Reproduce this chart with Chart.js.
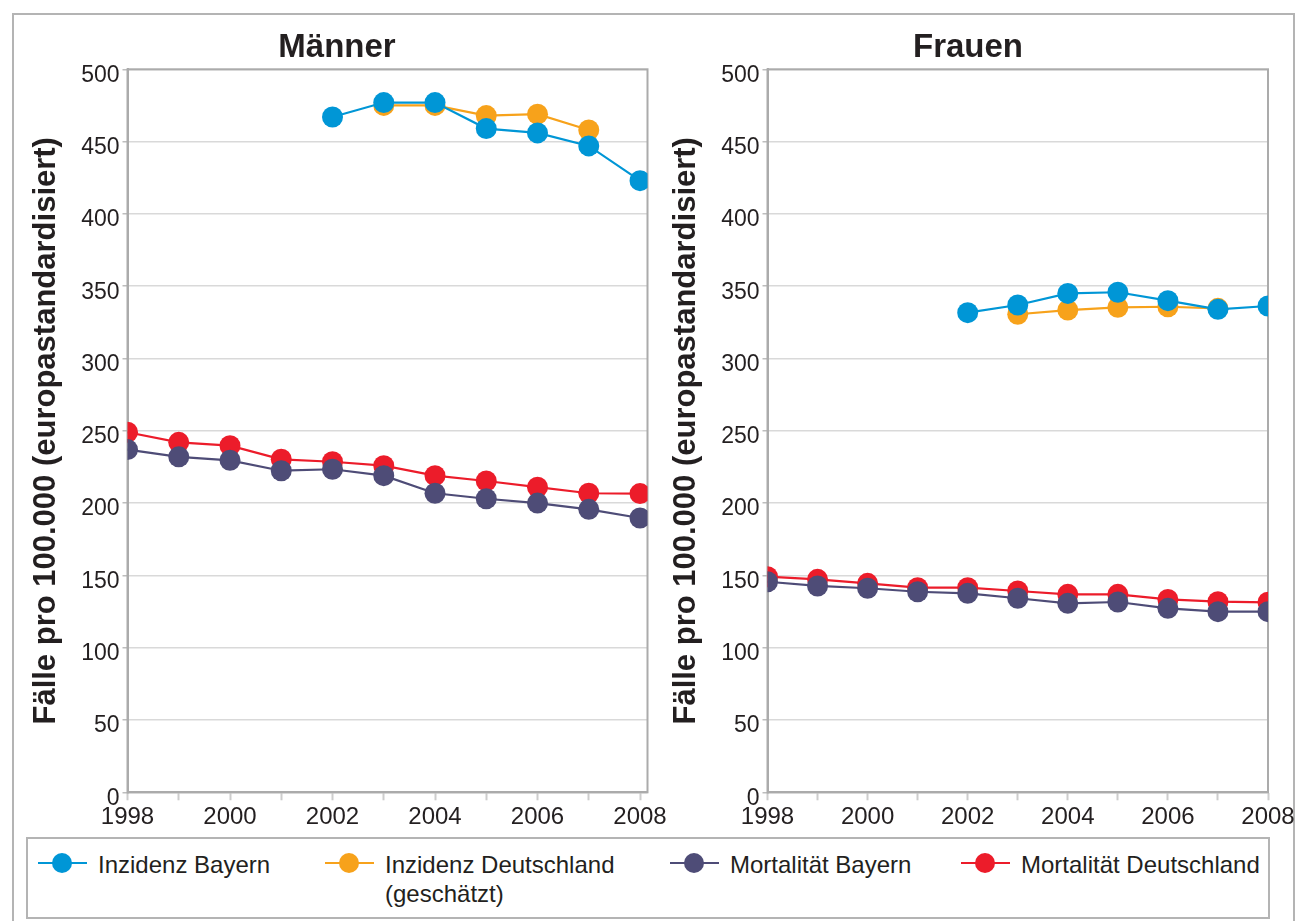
<!DOCTYPE html>
<html>
<head>
<meta charset="utf-8">
<script src="https://cdn.jsdelivr.net/npm/chart.js@4/dist/chart.umd.min.js"></script>
<style>
  html, body { margin:0; padding:0; background:#fff; }
  body { width:1295px; height:921px; overflow:hidden; position:relative; font-family:"Liberation Sans", Arial, sans-serif; color:#231f20; }
  #frame { position:absolute; left:12px; top:13px; width:1279px; height:930px; border:2px solid #b4b4b4; }
  canvas { position:absolute; top:0; }
  #cMen { left:0; }
  #cWomen { left:640px; }
  .ttl { position:absolute; top:29px; width:240px; text-align:center; font-weight:bold; font-size:33px; line-height:33px; }
  #legendBox { position:absolute; left:26px; top:837px; width:1240px; height:78px; border:2px solid #b4b4b4; }
  .lgItem { position:absolute; top:850px; font-size:24px; line-height:29px; white-space:nowrap; }
  .lgMark { position:absolute; top:853px; width:49px; height:20px; }
  .lgMark .ln { position:absolute; left:0; right:0; top:9px; height:2px; }
  .lgMark .dot { position:absolute; left:14px; top:0; width:20px; height:20px; border-radius:50%; }
</style>
</head>
<body>
<div id="frame"></div>
<canvas id="cMen" width="700" height="836"></canvas>
<canvas id="cWomen" width="660" height="836"></canvas>
<div class="ttl" style="left:217px;">Männer</div>
<div class="ttl" style="left:848px;">Frauen</div>
<div id="legendBox"></div>
<div id="legend"></div>
<script>
// ---- data ----
const years = [1998, 1999, 2000, 2001, 2002, 2003, 2004, 2005, 2006, 2007, 2008];
const yTickValues = [0, 50, 100, 150, 200, 250, 300, 350, 400, 450, 500];
const seriesNames = ['Inzidenz Bayern', 'Inzidenz Deutschland\n(geschätzt)', 'Mortalität Bayern', 'Mortalität Deutschland'];
const chartTitles = ['Männer', 'Frauen'];
const yAxisTitle = 'Fälle pro 100.000 (europastandardisiert)';

const menIncidenceBavaria   = [null, null, null, null, 467, 477, 477, 459, 456, 447, 423];
const menIncidenceGermany   = [null, null, null, null, null, 475, 475, 468, 469, 458, null];
const menMortalityBavaria   = [237, 232, 229.6, 222.4, 223.4, 219, 206.8, 203, 200, 195.7, 189.7];
const menMortalityGermany   = [249, 242, 239.7, 230.3, 228.6, 225.9, 219, 215.3, 211, 206.8, 206.6];

const womenIncidenceBavaria = [null, null, null, null, 331.7, 337, 345, 345.8, 340, 334, 336.3];
const womenIncidenceGermany = [null, null, null, null, null, 330.6, 333.5, 335.4, 335.8, 334.7, null];
const womenMortalityBavaria = [145.6, 142.7, 141.1, 138.7, 137.6, 134.2, 130.7, 131.6, 127.2, 124.9, 124.9];
const womenMortalityGermany = [149.1, 147.3, 144.5, 141.5, 141.5, 139.2, 136.9, 136.9, 133.4, 131.8, 131.4];

// ---- styles ----
const COLORS = ['#0096d6', '#f7a21b', '#4e4c77', '#ec1c2a'];
const TEXT = '#231f20';
const AXIS = '#ababab';

Chart.defaults.font.family = '"Liberation Sans", Arial, sans-serif';
Chart.defaults.color = TEXT;

function toPoints(vals) {
  const pts = [];
  years.forEach((y, i) => { if (vals[i] !== null) pts.push({ x: y, y: vals[i] }); });
  return pts;
}

const frameBorder = {
  id: 'frameBorder',
  beforeDatasetsDraw(chart) {
    const a = chart.chartArea, ctx = chart.ctx;
    ctx.save();
    ctx.strokeStyle = AXIS;
    ctx.lineWidth = 2;
    ctx.strokeRect(a.left, a.top, a.right - a.left, a.bottom - a.top);
    ctx.restore();
  }
};

function makeChart(id, seriesList, xMax, padRight) {
  const datasets = seriesList.map((vals, i) => ({
    label: seriesNames[i],
    data: toPoints(vals),
    borderColor: COLORS[i],
    backgroundColor: COLORS[i],
    pointBackgroundColor: COLORS[i],
    pointBorderColor: COLORS[i],
    borderWidth: 2.2,
    pointRadius: 10.5,
    pointBorderWidth: 0,
    tension: 0,
    fill: false
  }));
  return new Chart(document.getElementById(id), {
    type: 'line',
    data: { datasets },
    options: {
      responsive: false,
      animation: false,
      devicePixelRatio: 1,
      layout: { padding: { left: 0, top: 69.3, right: padRight, bottom: 0 } },
      plugins: { legend: { display: false }, tooltip: { enabled: false }, title: { display: false } },
      scales: {
        x: {
          type: 'linear',
          min: 1998,
          max: xMax,
          afterBuildTicks: s => { s.ticks = years.map(v => ({ value: v })); },
          afterFit: s => { s.height = 836 - 792.3; },
          ticks: {
            autoSkip: false, maxRotation: 0, minRotation: 0, padding: 3,
            font: { size: 24 }, color: TEXT,
            callback: v => (v % 2 === 0 ? String(v) : '')
          },
          grid: { drawOnChartArea: false, drawTicks: true, tickLength: 8, tickColor: '#cdcdcd', tickWidth: 2 },
          border: { display: true, color: AXIS, width: 2 }
        },
        y: {
          min: 0,
          max: 500,
          afterBuildTicks: s => { s.ticks = yTickValues.map(v => ({ value: v })); },
          afterFit: s => { s.width = 127.5; },
          ticks: { padding: 3, labelOffset: 6, font: { size: 23 }, color: TEXT, callback: v => String(v) },
          grid: { color: '#d9d9d9', lineWidth: 1.5, drawTicks: true, tickLength: 5, tickColor: '#bdbdbd', tickWidth: 1.5 },
          border: { display: true, color: AXIS, width: 2 },
          title: {
            display: true, text: yAxisTitle, color: TEXT,
            font: { size: 31, weight: 'bold' },
            padding: { top: 27.5, bottom: 0 }
          }
        }
      }
    },
    plugins: [frameBorder]
  });
}

makeChart('cMen', [menIncidenceBavaria, menIncidenceGermany, menMortalityBavaria, menMortalityGermany], 2008.146, 52.5);
makeChart('cWomen', [womenIncidenceBavaria, womenIncidenceGermany, womenMortalityBavaria, womenMortalityGermany], 2008, 32);

// ---- legend ----
const legendTextX = [98, 385, 730, 1021];
const legend = document.getElementById('legend');
seriesNames.forEach((name, i) => {
  const m = document.createElement('div');
  m.className = 'lgMark';
  m.style.left = (legendTextX[i] - 60) + 'px';
  m.innerHTML = '<div class="ln" style="background:' + COLORS[i] + '"></div><div class="dot" style="background:' + COLORS[i] + '"></div>';
  legend.appendChild(m);
  const t = document.createElement('div');
  t.className = 'lgItem';
  t.style.left = legendTextX[i] + 'px';
  t.innerHTML = name.split('\n').join('<br>');
  legend.appendChild(t);
});
</script>
</body>
</html>
